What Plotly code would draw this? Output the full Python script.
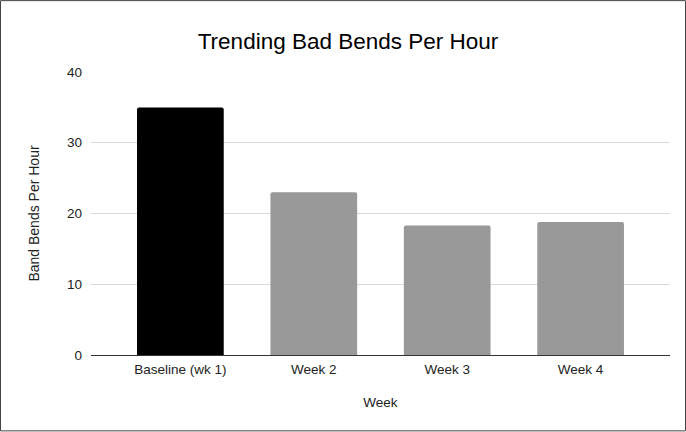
import plotly.graph_objects as go

# Weekly bad-bend rates
weeks = ["Baseline (wk 1)", "Week 2", "Week 3", "Week 4"]
bends_per_hour = [35.0, 23.0, 18.3, 18.8]
bar_colors = ["#000000", "#999999", "#999999", "#999999"]
y_ticks = [0, 10, 20, 30, 40]

W, H = 686, 432
L, R, T, B = 91, 16, 72, 76.5
pw, ph = W - L - R, H - T - B

fig = go.Figure(
    go.Bar(
        x=list(range(len(weeks))),
        y=bends_per_hour,
        marker=dict(color=bar_colors, line=dict(width=0)),
        width=0.65,
    )
)

font = "Arial, Liberation Sans, sans-serif"

fig.update_layout(
    width=W,
    height=H,
    margin=dict(l=L, r=R, t=T, b=B, autoexpand=False),
    paper_bgcolor="white",
    plot_bgcolor="white",
    barcornerradius=2,
    showlegend=False,
    font=dict(family=font, color="#222222"),
    title=dict(
        text="Trending Bad Bends Per Hour",
        x=348 / W,
        xanchor="center",
        y=1 - 41 / H,
        yanchor="middle",
        font=dict(size=22.5, color="#000000", family=font),
    ),
    xaxis=dict(
        range=[-0.67, 3.67],
        tickmode="array",
        tickvals=list(range(len(weeks))),
        ticktext=weeks,
        tickfont=dict(size=13.5, color="#222222"),
        showgrid=False,
        showline=False,
        zeroline=False,
        ticks="",
        ticklabelstandoff=4,
        title=dict(text="Week", font=dict(size=13.5, color="#222222"), standoff=22),
        automargin=False,
    ),
    yaxis=dict(
        range=[0, 40],
        tickmode="array",
        tickvals=y_ticks,
        tickfont=dict(size=13.5, color="#222222"),
        showgrid=True,
        gridcolor="#d9d9d9",
        gridwidth=1,
        zeroline=True,
        zerolinecolor="#333333",
        zerolinewidth=1,
        showline=False,
        ticks="",
        ticklabelstandoff=8,
        title=dict(text="Band Bends Per Hour", font=dict(size=14, color="#222222"), standoff=24),
        automargin=False,
    ),
)

# Frame around the whole chart
fig.add_shape(
    type="rect",
    xref="paper",
    yref="paper",
    x0=(0.5 - L) / pw,
    x1=(W - 0.5 - L) / pw,
    y0=(H - B - (H - 0.5)) / ph,
    y1=(H - B - 0.5) / ph,
    line=dict(color="#444444", width=1),
    fillcolor="rgba(0,0,0,0)",
    layer="above",
)

fig.write_html("out.html")
